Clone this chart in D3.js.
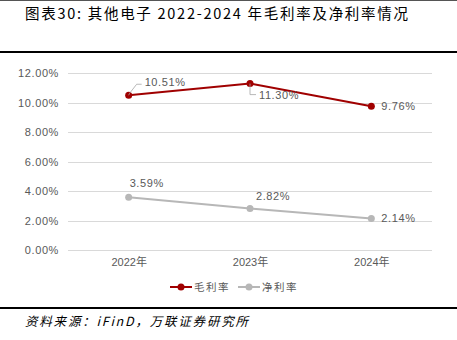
<!DOCTYPE html>
<html><head><meta charset="utf-8">
<script src="https://cdn.jsdelivr.net/npm/d3@7"></script>
<style>
body{margin:0;background:#fff;}
svg{display:block;}
</style></head>
<body>
<svg id="c" width="457" height="340"></svg>
<script>
const categories = ["2022年","2023年","2024年"];
const grossMargin = [10.51, 11.30, 9.76];
const netMargin = [3.59, 2.82, 2.14];
const yTicks = [0,2,4,6,8,10,12];
const seriesNames = ["毛利率","净利率"];
const colors = ["#A00000","#B7B7B7"];

const svg = d3.select("#c");
const numFont = "'Liberation Sans', 'Noto Sans CJK SC', sans-serif";
const cjk = "'Noto Sans CJK SC', sans-serif";

// frame lines
svg.append("line").attr("x1",0).attr("x2",457).attr("y1",0.5).attr("y2",0.5).attr("stroke","#555").attr("stroke-width",1);
svg.append("line").attr("x1",0).attr("x2",457).attr("y1",52).attr("y2",52).attr("stroke","#000").attr("stroke-width",2);
svg.append("line").attr("x1",0).attr("x2",457).attr("y1",308).attr("y2",308).attr("stroke","#000").attr("stroke-width",2);

// title
svg.append("text").attr("x",25).attr("y",19).attr("font-family",cjk).attr("font-size",14.5).attr("fill","#000")
  .attr("textLength",383).attr("lengthAdjust","spacing")
  .text("图表30:  其他电子 2022-2024 年毛利率及净利率情况");
// source
svg.append("text").attr("x",25).attr("y",326).attr("font-family",cjk).attr("font-size",12.5).attr("font-style","italic").attr("fill","#000")
  .attr("textLength",223).attr("lengthAdjust","spacing")
  .text("资料来源：iFinD，万联证券研究所");

const x = d3.scalePoint().domain(categories).range([68,432]).padding(0.5);
const y = d3.scaleLinear().domain([0,12]).range([250,73.3]);

// grid
svg.append("g").selectAll("line").data(yTicks).join("line")
  .attr("x1",68).attr("x2",432).attr("y1",d=>Math.round(y(d))+0.5).attr("y2",d=>Math.round(y(d))+0.5)
  .attr("stroke","#D9D9D9").attr("stroke-width",1);

// y axis
const yAxis = d3.axisLeft(y).tickValues(yTicks).tickSize(0).tickPadding(0).tickFormat(d=>d3.format(".2f")(d)+"%");
const gy = svg.append("g").attr("transform","translate(59,0)").call(yAxis);
gy.select(".domain").remove();
gy.selectAll("text").attr("font-family",numFont).attr("font-size",11).attr("fill","#595959").attr("letter-spacing","0.6");

// x axis
const xAxis = d3.axisBottom(x).tickSize(0).tickPadding(0);
const gx = svg.append("g").attr("transform","translate(0,258)").call(xAxis);
gx.select(".domain").remove();
gx.selectAll("text").attr("font-family",numFont).attr("font-size",11).attr("fill","#595959");

const series = [grossMargin, netMargin];
const line = d3.line().x((d,i)=>x(categories[i])).y(d=>y(d));
series.forEach((s,k)=>{
  svg.append("path").datum(s).attr("d",line).attr("fill","none").attr("stroke",colors[k]).attr("stroke-width",2);
  svg.append("g").selectAll("circle").data(s).join("circle")
    .attr("cx",(d,i)=>x(categories[i])).attr("cy",d=>y(d)).attr("r",3.5).attr("fill",colors[k]);
});

// data labels with offsets
const lblOff = [
  [{dx:16,dy:-9,leader:[[1,-2],[8,-11],[13,-11]]},{dx:9,dy:15,leader:[[0,2],[0,11],[6,11]]},{dx:10,dy:4}],
  [{dx:1,dy:-10},{dx:6,dy:-8},{dx:10,dy:4}]
];
series.forEach((s,k)=>{
  s.forEach((v,i)=>{
    const px = x(categories[i]), py = y(v), o = lblOff[k][i];
    if(o.leader){
      svg.append("polyline").attr("points",[[px,py]].concat(o.leader).map((p,j)=>j===0?p:[px+p[0],py+p[1]]).map(p=>p.join(",")).join(" "))
        .attr("fill","none").attr("stroke","#A6A6A6").attr("stroke-width",0.8);
    }
    svg.append("text").attr("x",px+o.dx).attr("y",py+o.dy).attr("font-family",numFont).attr("font-size",11)
      .attr("fill","#595959").attr("letter-spacing","0.6").text(d3.format(".2f")(v)+"%");
  });
});

// legend
const leg = svg.append("g");
const legX = [170,238];
seriesNames.forEach((n,k)=>{
  leg.append("line").attr("x1",legX[k]).attr("x2",legX[k]+22).attr("y1",287).attr("y2",287).attr("stroke",colors[k]).attr("stroke-width",2);
  leg.append("circle").attr("cx",legX[k]+11).attr("cy",287).attr("r",3.5).attr("fill",colors[k]);
  leg.append("text").attr("x",legX[k]+24).attr("y",291).attr("font-family",cjk).attr("font-size",10.5).attr("fill","#595959").attr("letter-spacing","1.5").text(n);
});
</script>
</body></html>
